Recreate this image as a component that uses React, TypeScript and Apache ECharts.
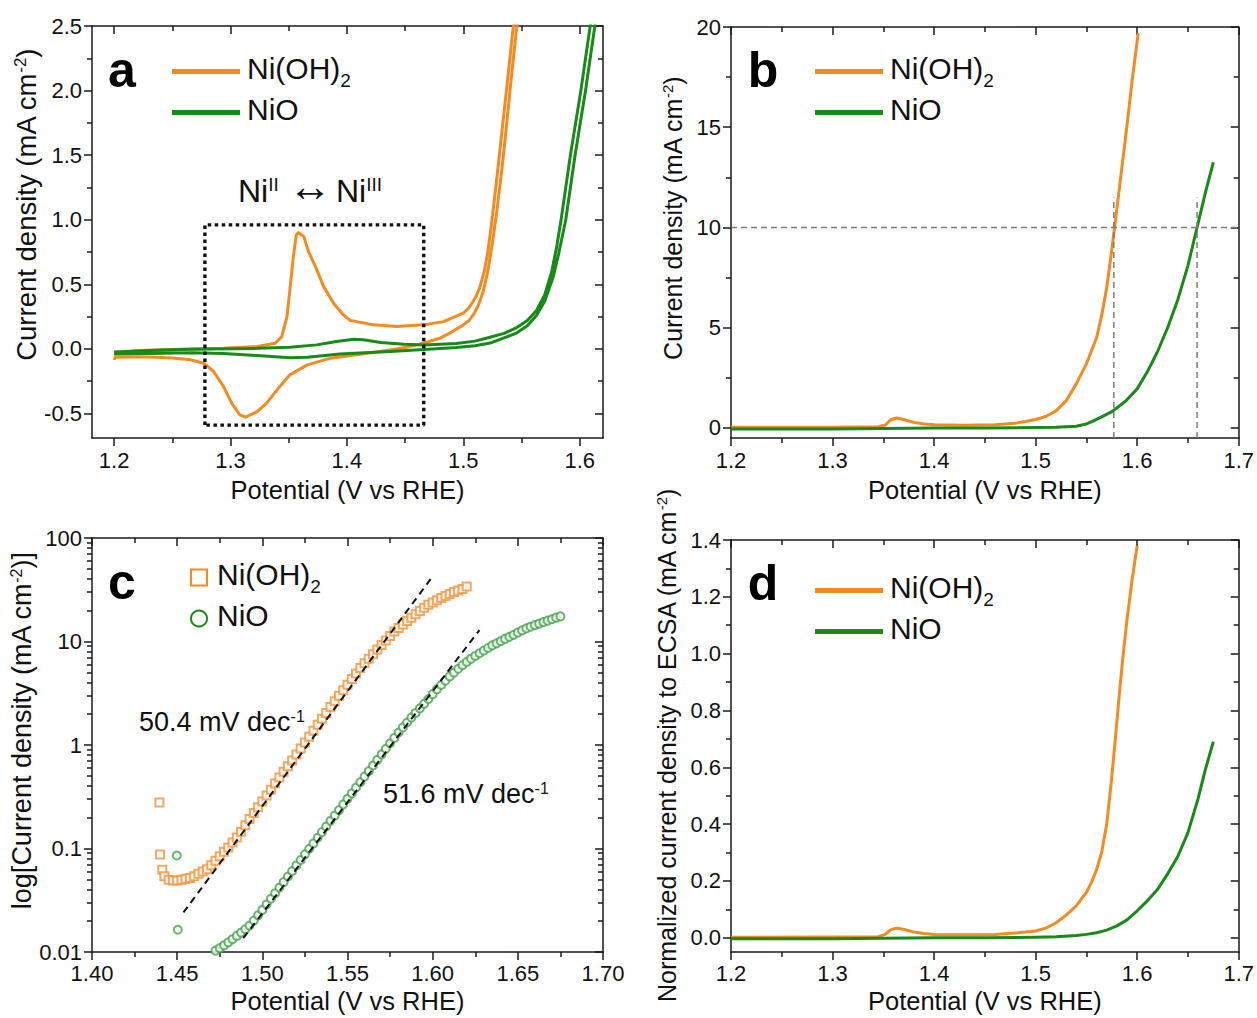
import React, { useEffect, useRef } from 'react';
import * as echarts from 'echarts';

const ORANGE = '#F58A1F';
const GREEN = '#178A17';
const ORANGE_MK = '#F3923A';
const GREEN_MK = '#46A24C';
const AXIS_COLOR = '#1a1a1a';
const FONT = '"Liberation Sans", Arial, Helvetica, sans-serif';

// ---------- Panel a : CV (potential V, current density mA cm-2) ----------
const A_NIOH2: number[][] = [
  [1.200, -0.03], [1.220, -0.015], [1.240, -0.007], [1.266, 0.0], [1.294, 0.005], [1.323, 0.018],
  [1.3385, 0.044], [1.344, 0.095], [1.3485, 0.25], [1.351, 0.457], [1.354, 0.714], [1.3565, 0.882],
  [1.3585, 0.90], [1.363, 0.869], [1.367, 0.753], [1.373, 0.637], [1.380, 0.482], [1.3885, 0.354],
  [1.397, 0.263], [1.403, 0.219], [1.4085, 0.211], [1.423, 0.186], [1.443, 0.173], [1.466, 0.186],
  [1.483, 0.211], [1.500, 0.276], [1.505, 0.32], [1.510, 0.39], [1.514, 0.47], [1.518, 0.60],
  [1.521, 0.75], [1.524, 0.95], [1.527, 1.18], [1.530, 1.42], [1.534, 1.75], [1.538, 2.08],
  [1.542, 2.42], [1.545, 2.65],
  [1.548, 2.65], [1.545, 2.42], [1.541, 2.08], [1.537, 1.72], [1.533, 1.38], [1.529, 1.08],
  [1.525, 0.82], [1.521, 0.60], [1.517, 0.44], [1.513, 0.34], [1.509, 0.27], [1.505, 0.22],
  [1.500, 0.186], [1.490, 0.13], [1.480, 0.083], [1.470, 0.055], [1.460, 0.031], [1.450, 0.01],
  [1.437, -0.008], [1.4085, -0.046], [1.386, -0.072], [1.366, -0.124], [1.351, -0.201], [1.340, -0.317],
  [1.331, -0.42], [1.323, -0.485], [1.313, -0.529], [1.308, -0.511], [1.301, -0.42], [1.294, -0.292],
  [1.2855, -0.175], [1.277, -0.111], [1.266, -0.085], [1.250, -0.07], [1.230, -0.062], [1.210, -0.062],
  [1.201, -0.065], [1.200, -0.085],
];
const A_NIO: number[][] = [
  [1.200, -0.025], [1.230, -0.012], [1.266, -0.002], [1.323, 0.004], [1.351, 0.013], [1.374, 0.031],
  [1.391, 0.057], [1.406, 0.075], [1.414, 0.070], [1.429, 0.049], [1.449, 0.036], [1.466, 0.031],
  [1.494, 0.041], [1.510, 0.06], [1.523, 0.09], [1.535, 0.12], [1.545, 0.16], [1.555, 0.22],
  [1.563, 0.30], [1.570, 0.42], [1.576, 0.60], [1.580, 0.78], [1.584, 1.0], [1.592, 1.5],
  [1.601, 2.0], [1.609, 2.5], [1.6105, 2.6],
  [1.6145, 2.6], [1.613, 2.5], [1.605, 2.0], [1.596, 1.5], [1.588, 1.0], [1.582, 0.74],
  [1.577, 0.55], [1.570, 0.37], [1.563, 0.26], [1.555, 0.18], [1.545, 0.12], [1.535, 0.085],
  [1.523, 0.045], [1.510, 0.025], [1.494, 0.01], [1.466, -0.005], [1.437, -0.02], [1.394, -0.04],
  [1.366, -0.065], [1.351, -0.068], [1.323, -0.052], [1.294, -0.036], [1.266, -0.03], [1.230, -0.035],
  [1.200, -0.04],
];
const A_BOX_X = [1.278, 1.278, 1.466, 1.466, 1.278];
const A_BOX_Y = [-0.59, 0.96, 0.96, -0.59, -0.59];

// ---------- Panel b : LSV ----------
const B_NIOH2: number[][] = [
  [1.200, 0.03], [1.250, 0.03], [1.300, 0.04], [1.345, 0.06], [1.352, 0.15], [1.357, 0.40],
  [1.363, 0.50], [1.370, 0.42], [1.380, 0.28], [1.390, 0.20], [1.400, 0.16], [1.430, 0.14],
  [1.460, 0.16], [1.480, 0.24], [1.490, 0.32], [1.500, 0.42], [1.510, 0.57], [1.520, 0.85],
  [1.530, 1.35], [1.540, 2.2], [1.550, 3.2], [1.560, 4.5], [1.565, 5.6], [1.570, 7.0],
  [1.574, 8.5], [1.578, 10.1], [1.584, 12.6], [1.590, 15.1], [1.595, 17.3], [1.601, 19.7],
];
const B_NIO: number[][] = [
  [1.200, -0.05], [1.300, -0.05], [1.350, -0.03], [1.400, 0.0], [1.450, 0.0], [1.500, 0.02],
  [1.520, 0.04], [1.540, 0.09], [1.550, 0.2], [1.556, 0.33], [1.565, 0.55], [1.5756, 0.83],
  [1.5885, 1.33], [1.600, 1.95], [1.610, 2.8], [1.620, 3.8], [1.630, 5.0], [1.640, 6.4],
  [1.650, 8.1], [1.659, 10.0], [1.667, 11.7], [1.675, 13.25],
];
const B_REF_J = 10;
const B_ONSET_V = [1.577, 1.659];
const B_GUIDE_TOP = 11.5;

// ---------- Panel c : Tafel ----------
const C_NIOH2: number[][] = [
  [1.4396, 0.278], [1.4400, 0.0875], [1.4413, 0.0625], [1.4425, 0.054], [1.4450, 0.050], [1.4475, 0.049],
  [1.4500, 0.049], [1.4525, 0.050], [1.4550, 0.051], [1.4575, 0.052], [1.4600, 0.054], [1.4625, 0.057],
  [1.4650, 0.060], [1.4675, 0.063], [1.4700, 0.069], [1.4725, 0.076], [1.4750, 0.084], [1.4775, 0.093],
  [1.4800, 0.102], [1.4825, 0.114], [1.4850, 0.128], [1.4875, 0.145], [1.4900, 0.168], [1.4925, 0.193],
  [1.4950, 0.220], [1.4975, 0.250], [1.5000, 0.285], [1.5025, 0.325], [1.5050, 0.370], [1.5075, 0.425],
  [1.5100, 0.485], [1.5125, 0.550], [1.5150, 0.625], [1.5175, 0.710], [1.5200, 0.810], [1.5225, 0.925],
  [1.5250, 1.055], [1.5275, 1.20], [1.5300, 1.37], [1.5325, 1.57], [1.5350, 1.79], [1.5375, 2.04],
  [1.5400, 2.33], [1.5425, 2.64], [1.5450, 2.99], [1.5475, 3.38], [1.5500, 3.83], [1.5525, 4.33],
  [1.5550, 4.90], [1.5575, 5.55], [1.5600, 6.15], [1.5625, 6.80], [1.5650, 7.55], [1.5675, 8.35],
  [1.5700, 9.25], [1.5725, 10.2], [1.5750, 11.3], [1.5775, 12.5], [1.5800, 13.5], [1.5825, 14.6],
  [1.5850, 15.75], [1.5875, 17.0], [1.5900, 18.3], [1.5925, 19.7], [1.5950, 21.2], [1.5975, 22.7],
  [1.6000, 23.8], [1.6025, 25.0], [1.6050, 26.3], [1.6075, 27.5], [1.6100, 28.8], [1.6125, 30.0],
  [1.6150, 31.1], [1.6175, 32.2], [1.6200, 34.0],
];
const C_NIO: number[][] = [
  [1.4498, 0.0855], [1.4504, 0.0164], [1.4725, 0.0103], [1.4750, 0.0109], [1.4775, 0.0116], [1.4800, 0.0124],
  [1.4825, 0.0133], [1.4850, 0.0143], [1.4875, 0.0154], [1.4900, 0.0166], [1.4925, 0.0180], [1.4950, 0.0201],
  [1.4975, 0.0226], [1.5000, 0.0255], [1.5025, 0.0288], [1.5050, 0.0327], [1.5075, 0.0370], [1.5100, 0.0419],
  [1.5125, 0.0474], [1.5150, 0.0536], [1.5175, 0.0606], [1.5200, 0.0686], [1.5225, 0.0775], [1.5250, 0.0878],
  [1.5275, 0.0994], [1.5300, 0.112], [1.5325, 0.127], [1.5350, 0.144], [1.5375, 0.163], [1.5400, 0.185],
  [1.5425, 0.208], [1.5450, 0.235], [1.5475, 0.267], [1.5500, 0.302], [1.5525, 0.341], [1.5550, 0.387],
  [1.5575, 0.437], [1.5600, 0.495], [1.5625, 0.559], [1.5650, 0.634], [1.5675, 0.717], [1.5700, 0.811],
  [1.5725, 0.918], [1.5750, 1.04], [1.5775, 1.17], [1.5800, 1.32], [1.5825, 1.48], [1.5850, 1.65],
  [1.5875, 1.84], [1.5900, 2.04], [1.5925, 2.26], [1.5950, 2.50], [1.5975, 2.78], [1.6000, 3.10],
  [1.6025, 3.45], [1.6050, 3.80], [1.6075, 4.18], [1.6100, 4.60], [1.6125, 5.00], [1.6150, 5.45],
  [1.6175, 5.90], [1.6200, 6.35], [1.6225, 6.80], [1.6250, 7.25], [1.6275, 7.70], [1.6300, 8.18],
  [1.6325, 8.66], [1.6350, 9.17], [1.6375, 9.60], [1.6400, 10.1], [1.6425, 10.6], [1.6450, 11.1],
  [1.6475, 11.6], [1.6500, 12.2], [1.6525, 12.8], [1.6550, 13.4], [1.6575, 13.9], [1.6600, 14.4],
  [1.6625, 14.9], [1.6650, 15.4], [1.6675, 15.9], [1.6700, 16.4], [1.6725, 17.0], [1.6750, 17.5],
];
const C_FIT_NIOH2: number[][] = [[1.4537, 0.0241], [1.5992, 40.9]];
const C_FIT_NIO: number[][] = [[1.4888, 0.0136], [1.6275, 12.9]];

// ---------- Panel d : ECSA-normalised LSV ----------
const D_NIOH2: number[][] = [
  [1.200, 0.002], [1.300, 0.003], [1.345, 0.004], [1.352, 0.012], [1.357, 0.028], [1.363, 0.034],
  [1.370, 0.030], [1.380, 0.020], [1.390, 0.015], [1.400, 0.012], [1.430, 0.011], [1.460, 0.012],
  [1.480, 0.017], [1.490, 0.020], [1.500, 0.024], [1.510, 0.034], [1.520, 0.052], [1.530, 0.08],
  [1.540, 0.112], [1.550, 0.16], [1.555, 0.195], [1.560, 0.24], [1.565, 0.30], [1.570, 0.40],
  [1.574, 0.53], [1.578, 0.68], [1.582, 0.84], [1.586, 0.99], [1.590, 1.12], [1.595, 1.26],
  [1.600, 1.38],
];
const D_NIO: number[][] = [
  [1.200, -0.003], [1.300, -0.003], [1.400, 0.0], [1.450, 0.0], [1.500, 0.002], [1.520, 0.004],
  [1.540, 0.008], [1.550, 0.012], [1.560, 0.018], [1.570, 0.027], [1.580, 0.042], [1.590, 0.063],
  [1.600, 0.095], [1.610, 0.13], [1.620, 0.17], [1.630, 0.225], [1.640, 0.286], [1.650, 0.37],
  [1.660, 0.49], [1.667, 0.59], [1.675, 0.69],
];

// ---------- ticks ----------
const A_X_MAJOR = [1.2, 1.3, 1.4, 1.5, 1.6];
const A_X_MINOR = [1.25, 1.35, 1.45, 1.55];
const A_Y_MAJOR = [-0.5, 0, 0.5, 1, 1.5, 2, 2.5];
const A_Y_MINOR = [-0.25, 0.25, 0.75, 1.25, 1.75, 2.25];
const BD_X_MAJOR = [1.2, 1.3, 1.4, 1.5, 1.6, 1.7];
const BD_X_MINOR = [1.25, 1.35, 1.45, 1.55, 1.65];
const B_Y_MAJOR = [0, 5, 10, 15, 20];
const B_Y_MINOR = [2.5, 7.5, 12.5, 17.5];
const C_X_MAJOR = [1.4, 1.45, 1.5, 1.55, 1.6, 1.65, 1.7];
const C_X_MINOR = [1.425, 1.475, 1.525, 1.575, 1.625, 1.675];
const C_Y_MAJOR = [0.01, 0.1, 1, 10, 100];
const C_Y_MINOR = [
  0.02, 0.03, 0.04, 0.05, 0.06, 0.07, 0.08, 0.09,
  0.2, 0.3, 0.4, 0.5, 0.6, 0.7, 0.8, 0.9,
  2, 3, 4, 5, 6, 7, 8, 9,
  20, 30, 40, 50, 60, 70, 80, 90,
];
const D_Y_MAJOR = [0, 0.2, 0.4, 0.6, 0.8, 1.0, 1.2, 1.4];
const D_Y_MINOR = [0.1, 0.3, 0.5, 0.7, 0.9, 1.1, 1.3];

const X_TITLE = 'Potential (V vs RHE)';

function fix(n: number) {
  return (v: number) => v.toFixed(n);
}

function titleStyle(size: number, shift: number) {
  return {
    fontSize: size,
    fontFamily: FONT,
    color: '#111',
    padding: shift > 0 ? [0, 0, 0, shift * 2] : [0, 0, 0, 0],
    rich: { sup: { fontSize: Math.round(size * 0.6), fontFamily: FONT, color: '#111', verticalAlign: 'top' } },
  };
}

function makeAxes(dim: 'x' | 'y', grid: number, cfg: any) {
  const isX = dim === 'x';
  const pos1 = isX ? 'bottom' : 'left';
  const pos2 = isX ? 'top' : 'right';
  const lineStyle = { color: AXIS_COLOR, width: 1.5 };
  const base = {
    type: cfg.type || 'value',
    gridIndex: grid,
    min: cfg.min,
    max: cfg.max,
    splitLine: { show: false },
    minorTick: { show: false },
    minorSplitLine: { show: false },
  };
  return [
    {
      ...base,
      position: pos1,
      axisLine: { show: true, onZero: false, lineStyle },
      axisTick: { show: true, inside: false, length: 8, customValues: cfg.major, lineStyle },
      axisLabel: {
        show: true,
        customValues: cfg.major,
        formatter: cfg.fmt,
        fontSize: 22,
        fontFamily: FONT,
        color: '#111',
        margin: cfg.labelMargin,
        showMinLabel: true,
        showMaxLabel: true,
      },
      name: cfg.name,
      nameLocation: 'middle',
      nameGap: cfg.nameGap,
      nameTextStyle: titleStyle(cfg.nameSize || 25.5, cfg.nameShift || 0),
    },
    {
      ...base,
      position: pos1,
      axisLine: { show: false, onZero: false },
      axisTick: { show: true, inside: false, length: 5, customValues: cfg.minor, lineStyle },
      axisLabel: { show: false },
    },
    {
      ...base,
      position: pos2,
      axisLine: { show: true, onZero: false, lineStyle },
      axisTick: { show: true, inside: true, length: 8, customValues: cfg.major, lineStyle },
      axisLabel: { show: false },
    },
    {
      ...base,
      position: pos2,
      axisLine: { show: false, onZero: false },
      axisTick: { show: true, inside: true, length: 5, customValues: cfg.minor, lineStyle },
      axisLabel: { show: false },
    },
  ];
}

function lineSeries(name: string, g: number, data: number[][], color: string, z = 3) {
  return {
    type: 'line',
    name,
    xAxisIndex: g * 4,
    yAxisIndex: g * 4,
    data,
    showSymbol: false,
    symbol: 'none',
    smooth: false,
    lineStyle: { color, width: 3, join: 'round' },
    itemStyle: { color },
    clip: true,
    silent: true,
    z,
  };
}

function guideSeries(g: number, data: number[][], color: string, width: number, dash: number[]) {
  return {
    type: 'line',
    name: 'guide',
    xAxisIndex: g * 4,
    yAxisIndex: g * 4,
    data,
    showSymbol: false,
    symbol: 'none',
    lineStyle: { color, width, type: dash, cap: 'butt' },
    clip: true,
    silent: true,
    z: 5,
  };
}

const LEGEND_RICH = {
  m: { fontSize: 30, fontFamily: FONT, color: '#111', verticalAlign: 'top', padding: [0, 0, 7, 0] },
  sub: { fontSize: 19, fontFamily: FONT, color: '#111', verticalAlign: 'bottom' },
};
const legendFmt = (name: string) => (name === 'Ni(OH)2' ? '{m|Ni(OH)}{sub|2}' : '{m|' + name + '}');

function lineLegend(left: number, top: number) {
  return {
    left,
    top,
    padding: 0,
    orient: 'vertical',
    icon: 'rect',
    itemWidth: 68,
    itemHeight: 5,
    itemGap: 4,
    selectedMode: false,
    data: ['Ni(OH)2', 'NiO'],
    formatter: legendFmt,
    textStyle: { fontSize: 30, fontFamily: FONT, color: '#111', rich: LEGEND_RICH, padding: [0, 0, 0, 2] },
  };
}

function letter(text: string, x: number, y: number) {
  return {
    type: 'text',
    x,
    y,
    silent: true,
    style: {
      text,
      fontSize: 50,
      fontWeight: 'bold',
      fontFamily: FONT,
      fill: '#000',
      align: 'center',
      verticalAlign: 'middle',
    },
  };
}

function note(text: string, x: number, y: number, size: number, supSize: number, align = 'left') {
  return {
    type: 'text',
    x,
    y,
    silent: true,
    style: {
      text,
      fontSize: size,
      fontFamily: FONT,
      fill: '#111',
      align,
      verticalAlign: 'middle',
      rich: {
        sup: { fontSize: supSize, fontFamily: FONT, fill: '#111', verticalAlign: 'top' },
      },
    },
  };
}

function buildOption() {
  const xAxis = [
    ...makeAxes('x', 0, { min: 1.181, max: 1.62, major: A_X_MAJOR, minor: A_X_MINOR, fmt: fix(1), labelMargin: 11, name: X_TITLE, nameGap: 39 }),
    ...makeAxes('x', 1, { min: 1.2, max: 1.7, major: BD_X_MAJOR, minor: BD_X_MINOR, fmt: fix(1), labelMargin: 11, name: X_TITLE, nameGap: 39 }),
    ...makeAxes('x', 2, { min: 1.4, max: 1.7, major: C_X_MAJOR, minor: C_X_MINOR, fmt: fix(2), labelMargin: 10, name: X_TITLE, nameGap: 36 }),
    ...makeAxes('x', 3, { min: 1.2, max: 1.7, major: BD_X_MAJOR, minor: BD_X_MINOR, fmt: fix(1), labelMargin: 10, name: X_TITLE, nameGap: 36 }),
  ];
  const yAxis = [
    ...makeAxes('y', 0, { min: -0.69, max: 2.5, major: A_Y_MAJOR, minor: A_Y_MINOR, fmt: fix(1), labelMargin: 10, name: 'Current density (mA cm{sup|-2})', nameGap: 47, nameSize: 27.5, nameShift: 27 }),
    ...makeAxes('y', 1, { min: -0.5, max: 20, major: B_Y_MAJOR, minor: B_Y_MINOR, fmt: fix(0), labelMargin: 10, name: 'Current density (mA cm{sup|-2})', nameGap: 46, nameSize: 25, nameShift: 14 }),
    ...makeAxes('y', 2, {
      type: 'log', min: 0.01, max: 100, major: C_Y_MAJOR, minor: C_Y_MINOR,
      fmt: (v: number) => String(Number(v.toPrecision(3))), labelMargin: 10,
      name: 'log[Current density (mA cm{sup|-2})]', nameGap: 48, nameSize: 27, nameShift: 14,
    }),
    ...makeAxes('y', 3, { min: -0.05, max: 1.4, major: D_Y_MAJOR, minor: D_Y_MINOR, fmt: fix(1), labelMargin: 10, name: 'Normalized current density to ECSA (mA cm{sup|-2})', nameGap: 52, nameSize: 25 }),
  ];

  const boxData = A_BOX_X.map((x, i) => [x, A_BOX_Y[i]]);
  const bGuides = [
    guideSeries(1, [[1.2, B_REF_J], [1.7, B_REF_J]], '#7a7a7a', 1.5, [6, 4]),
    ...B_ONSET_V.map((v) => guideSeries(1, [[v, -0.5], [v, B_GUIDE_TOP]], '#7a7a7a', 1.5, [6, 4])),
  ];

  const series: any[] = [
    lineSeries('Ni(OH)2', 0, A_NIOH2, ORANGE, 3),
    lineSeries('NiO', 0, A_NIO, GREEN, 4),
    { ...guideSeries(0, boxData, '#111', 3.4, [3.5, 3.5]), z: 6 },

    ...bGuides,
    lineSeries('Ni(OH)2', 1, B_NIOH2, ORANGE, 3),
    lineSeries('NiO', 1, B_NIO, GREEN, 4),

    {
      type: 'scatter',
      name: 'Ni(OH)2',
      xAxisIndex: 8,
      yAxisIndex: 8,
      data: C_NIOH2,
      symbol: 'emptyRect',
      symbolSize: 8,
      itemStyle: { color: ORANGE_MK, borderColor: ORANGE_MK, borderWidth: 1 },
      clip: true,
      silent: true,
      z: 3,
    },
    {
      type: 'scatter',
      name: 'NiO',
      xAxisIndex: 8,
      yAxisIndex: 8,
      data: C_NIO,
      symbol: 'emptyCircle',
      symbolSize: 8,
      itemStyle: { color: GREEN_MK, borderColor: GREEN_MK, borderWidth: 1 },
      clip: true,
      silent: true,
      z: 3,
    },
    guideSeries(2, C_FIT_NIOH2, '#111', 2, [7, 5]),
    guideSeries(2, C_FIT_NIO, '#111', 2, [7, 5]),

    lineSeries('Ni(OH)2', 3, D_NIOH2, ORANGE, 3),
    lineSeries('NiO', 3, D_NIO, GREEN, 4),
  ];

  return {
    animation: false,
    backgroundColor: '#fff',
    grid: [
      { left: 92, top: 26, width: 511, height: 412 },
      { left: 731, top: 27, width: 514, height: 411 },
      { left: 92, top: 538, width: 511, height: 414 },
      { left: 731, top: 540, width: 514, height: 412 },
    ],
    xAxis,
    yAxis,
    legend: [
      lineLegend(172, 53),
      lineLegend(815, 53),
      {
        left: 190,
        top: 559,
        padding: 0,
        orient: 'vertical',
        itemWidth: 16,
        itemHeight: 16,
        itemGap: 4,
        selectedMode: false,
        data: [
          { name: 'Ni(OH)2', icon: 'emptyRect' },
          { name: 'NiO', icon: 'emptyCircle' },
        ],
        formatter: legendFmt,
        textStyle: { fontSize: 30, fontFamily: FONT, color: '#111', rich: LEGEND_RICH, padding: [0, 0, 0, 5] },
      },
      lineLegend(815, 572),
    ],
    graphic: [
      letter('a', 122, 70),
      letter('b', 763, 70),
      letter('c', 122, 582),
      letter('d', 763, 583),
      note('Ni{sup|II}', 238, 191, 32, 19, 'left'),
      {
        type: 'text',
        x: 310,
        y: 185,
        silent: true,
        style: { text: '\u2194', fontSize: 44, fontFamily: FONT, fill: '#111', align: 'center', verticalAlign: 'middle' },
      },
      note('Ni{sup|III}', 336, 191, 32, 19, 'left'),
      note('50.4 mV dec{sup|-1}', 139, 722, 27, 16),
      note('51.6 mV dec{sup|-1}', 383, 794, 27, 16),
    ],
    series,
  };
}

export default function App() {
  const ref = useRef<HTMLDivElement>(null);
  useEffect(() => {
    document.body.style.margin = '0';
    const chart = echarts.init(ref.current as HTMLDivElement, null, { renderer: 'svg' });
    chart.setOption(buildOption() as any);
    return () => {
      chart.dispose();
    };
  }, []);
  return <div ref={ref} style={{ width: 1257, height: 1018 }} />;
}
